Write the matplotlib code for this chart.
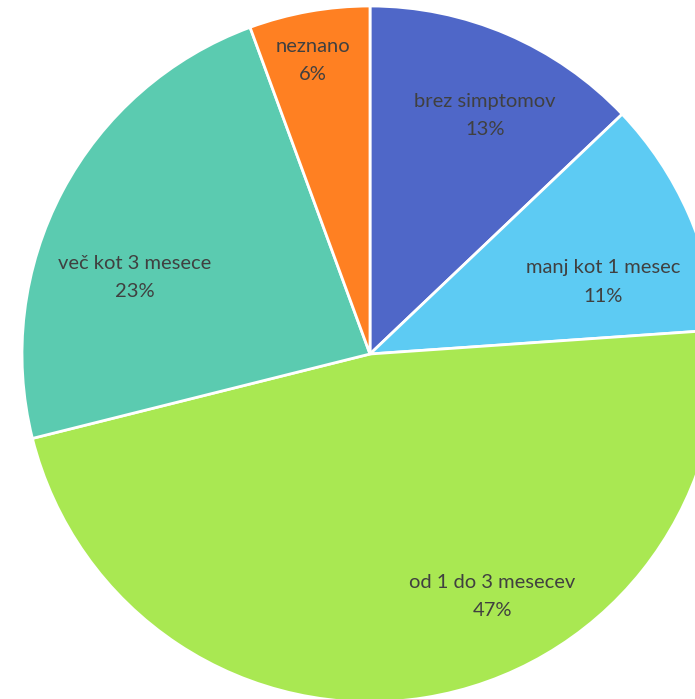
import numpy as np
import matplotlib
matplotlib.use('Agg')
from matplotlib import pyplot as plt

# podatki
labels = ['brez simptomov', 'manj kot 1 mesec', 'od 1 do 3 mesecev', 'več kot 3 mesece', 'neznano']
values = [12.9, 11.0, 47.2, 23.3, 5.6]
pct_labels = ['13%', '11%', '47%', '23%', '6%']
colors = ['#4F67C8', '#5DCBF3', '#A9E852', '#5BCBB0', '#FF8022']

# polozaj oznak (kot v stopinjah, razdalja od sredisca)
label_angle = [64.3, 17.2, -63.2, 162.0, 101.0]
label_dist = [0.76, 0.70, 0.78, 0.71, 0.86]

plt.rcParams['font.family'] = ['Lato', 'DejaVu Sans']

W, H = 695, 699
cx, cy, R = 370, 354, 348

fig = plt.figure(figsize=(W / 100, H / 100), dpi=100)
ax = fig.add_axes([0, 0, 1, 1])

ax.pie(values, colors=colors, startangle=90, counterclock=False, radius=1,
       wedgeprops=dict(edgecolor='white', linewidth=2))

for lab, p, a, d in zip(labels, pct_labels, label_angle, label_dist):
    x = d * np.cos(np.radians(a))
    y = d * np.sin(np.radians(a))
    ax.text(x, y, lab + '\n' + p, ha='center', va='center', fontsize=14.5,
            color='#404040', linespacing=1.8)

ax.set_aspect('auto')
ax.set_xlim(-cx / R, (W - cx) / R)
ax.set_ylim(-(H - cy) / R, cy / R)
ax.axis('off')

plt.savefig('out.png', dpi=100)
